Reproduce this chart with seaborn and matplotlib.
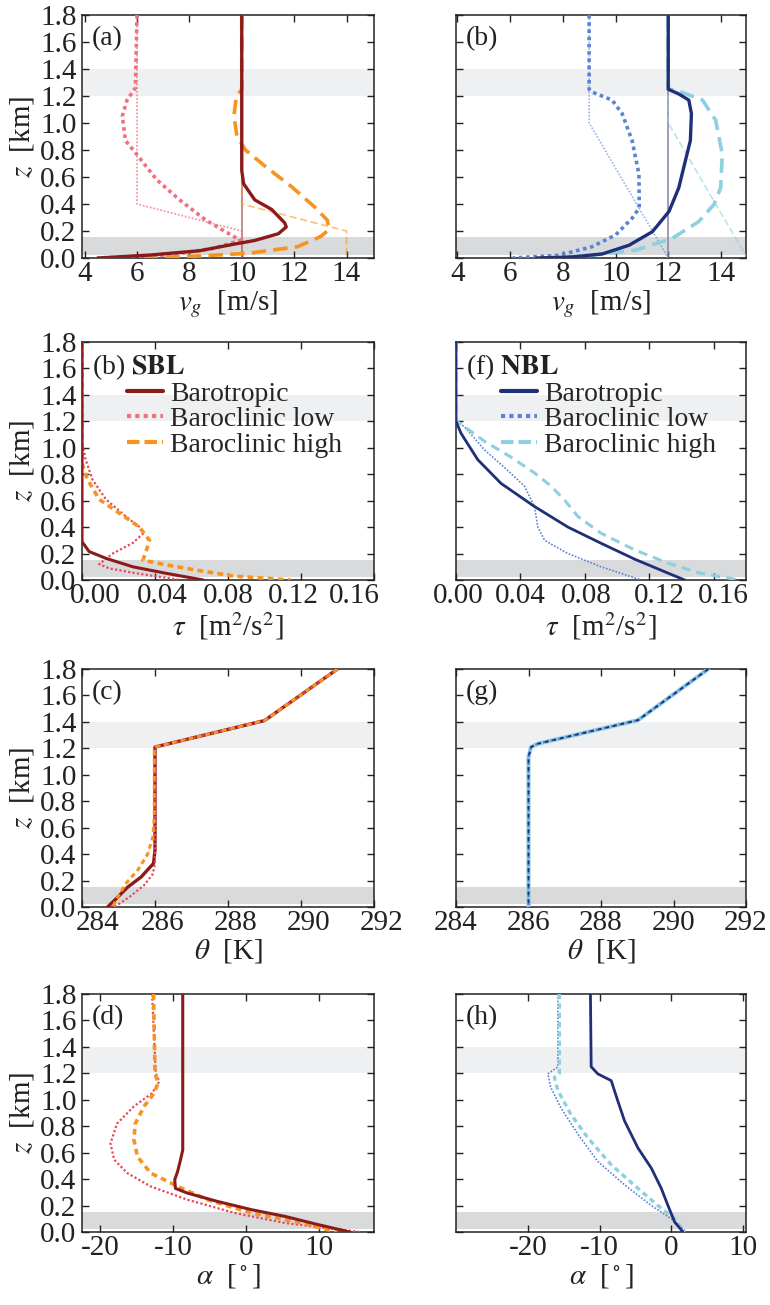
import matplotlib
matplotlib.use("Agg")
import matplotlib.pyplot as plt
from matplotlib.lines import Line2D
from matplotlib.ticker import FormatStrFormatter
from matplotlib.transforms import ScaledTranslation
import seaborn as sns
import numpy as np

# ---- colours ----
SBL_BARO, SBL_LOW, SBL_HIGH = '#8b1a1a', '#f0707c', '#f7941d'
NBL_BARO, NBL_LOW, NBL_HIGH = '#1f2f78', '#5b82d6', '#8dd0e0'

# ---- row 1: geostrophic wind speed v_g (m/s) ----
vg_z_sbl_baro = [1.8, 0.65, 0.55, 0.43, 0.36, 0.26, 0.23, 0.18, 0.13, 0.10, 0.054, 0.022, 0.0]
vg_sbl_baro = [10.0, 10.0, 10.07, 10.5, 11.14, 11.64, 11.7, 11.4, 10.5, 9.64, 8.4, 6.5, 4.5]
vg_z_sbl_low = [1.8, 1.26, 1.17, 1.05, 0.87, 0.78, 0.58, 0.43, 0.28, 0.18, 0.13, 0.07, 0.02, 0.0]
vg_sbl_low = [6.0, 5.94, 5.62, 5.44, 5.56, 5.94, 6.75, 7.63, 8.63, 9.51, 9.95, 8.88, 7.13, 4.5]
vg_z_sbl_high = [1.8, 1.25, 1.195, 1.05, 0.90, 0.80, 0.68, 0.53, 0.38, 0.28, 0.21, 0.16, 0.084, 0.035, 0.015, 0.0]
vg_sbl_high = [10.0, 10.0, 9.79, 9.7, 9.82, 10.14, 10.89, 11.89, 12.77, 13.27, 13.33, 13.02, 12.14, 10.26, 8.38, 6.1]

vg_z_nbl_baro = [1.8, 1.25, 1.215, 1.17, 1.07, 0.87, 0.72, 0.52, 0.345, 0.195, 0.095, 0.03, 0.008, 0.0]
vg_nbl_baro = [12.0, 12.0, 12.4, 12.78, 12.88, 12.84, 12.65, 12.4, 12.03, 11.4, 10.52, 9.5, 8.36, 7.0]
vg_z_nbl_low = [1.8, 1.25, 1.23, 1.17, 1.07, 0.87, 0.62, 0.37, 0.295, 0.17, 0.083, 0.02, 0.0]
vg_nbl_low = [9.0, 9.0, 9.1, 9.87, 10.25, 10.63, 10.89, 10.9, 10.63, 10.0, 9.1, 7.85, 6.1]
vg_z_nbl_high = [1.8, 1.25, 1.245, 1.17, 1.02, 0.77, 0.52, 0.395, 0.27, 0.145, 0.058, 0.015, 0.0]
vg_nbl_high = [12.0, 12.0, 12.28, 13.3, 13.8, 14.05, 13.99, 13.73, 13.16, 12.15, 10.76, 8.86, 7.34]

# imposed geostrophic profiles (thin lines)
geo_z_baro = [1.8, 0.0]
geo_sbl_baro = [10, 10]
geo_nbl_baro = [12, 12]
geo_z_sbl = [1.8, 0.4, 0.2, 0.0]
geo_sbl_low = [6, 6, 10, 10]
geo_sbl_high = [10, 10, 14, 14]
geo_z_nbl = [1.8, 1.0, 0.0]
geo_nbl_low = [9, 9, 12]
geo_nbl_high = [12, 12, 15]

# ---- row 2: momentum flux tau (m2/s2) ----
tau_z_sbl_baro = [1.8, 0.29, 0.215, 0.164, 0.10, 0.05, 0.0]
tau_sbl_baro = [0, 0, 0.0039, 0.0131, 0.0278, 0.0463, 0.0665]
tau_z_sbl_low = [1.8, 1.05, 0.91, 0.76, 0.61, 0.48, 0.40, 0.35, 0.28, 0.20, 0.12, 0.088, 0.05, 0.0]
tau_sbl_low = [0, 0, 0.002, 0.0057, 0.0131, 0.0241, 0.0315, 0.0334, 0.0278, 0.0168, 0.0094, 0.0149, 0.030, 0.054]
tau_z_sbl_high = [1.8, 0.88, 0.76, 0.61, 0.505, 0.40, 0.30, 0.2, 0.15, 0.114, 0.07, 0.03, 0.0]
tau_sbl_high = [0, 0, 0.003, 0.0094, 0.0205, 0.0315, 0.037, 0.0347, 0.0334, 0.0463, 0.0647, 0.083, 0.1145]

tau_z_nbl_baro = [1.8, 1.2, 1.11, 0.91, 0.73, 0.556, 0.40, 0.278, 0.157, 0.05, 0.0]
tau_nbl_baro = [0, 0, 0.0031, 0.0135, 0.028, 0.0487, 0.0695, 0.090, 0.111, 0.132, 0.142]
tau_z_nbl_low = [1.8, 1.2, 1.16, 0.985, 0.83, 0.71, 0.556, 0.40, 0.30, 0.20, 0.10, 0.0]
tau_nbl_low = [0, 0, 0.0052, 0.0176, 0.032, 0.0425, 0.0487, 0.0508, 0.055, 0.0695, 0.090, 0.115]
tau_z_nbl_high = [1.8, 1.2, 1.18, 1.05, 0.93, 0.81, 0.71, 0.61, 0.48, 0.354, 0.227, 0.126, 0.05, 0.0]
tau_nbl_high = [0, 0, 0.0031, 0.0176, 0.034, 0.0487, 0.059, 0.067, 0.0757, 0.090, 0.111, 0.132, 0.152, 0.176]

# ---- row 3: potential temperature theta (K) ----
th_z_sbl_baro = [1.8, 1.41, 1.21, 1.19, 0.43, 0.33, 0.227, 0.15, 0.05, 0.0]
th_sbl_baro = [291.0, 289.0, 286.0, 286.0, 286.0, 285.96, 285.62, 285.25, 284.89, 284.7]
th_z_sbl_low = [1.8, 1.41, 1.21, 1.19, 0.33, 0.25, 0.164, 0.076, 0.0]
th_sbl_low = [291.0, 289.0, 286.0, 286.0, 286.0, 285.94, 285.7, 285.3, 284.89]
th_z_sbl_high = [1.8, 1.41, 1.21, 1.19, 0.68, 0.53, 0.40, 0.28, 0.177, 0.076, 0.0]
th_sbl_high = [291.0, 289.0, 286.0, 285.98, 285.98, 285.94, 285.8, 285.53, 285.2, 284.98, 284.84]

th_z_nbl = [1.8, 1.413, 1.235, 1.21, 1.134, 0.0]
th_nbl = [290.96, 289.02, 286.26, 286.07, 286.0, 286.0]

# ---- row 4: wind direction alpha (deg) ----
al_z_sbl_baro = [1.8, 0.62, 0.547, 0.458, 0.395, 0.33, 0.295, 0.232, 0.169, 0.118, 0.055, 0.0]
al_sbl_baro = [-8.7, -8.7, -9.0, -9.4, -9.8, -9.7, -8.1, -4.0, 0.7, 5.3, 9.9, 14.2]
al_z_sbl_low = [1.8, 1.2, 1.14, 1.05, 0.95, 0.82, 0.67, 0.547, 0.446, 0.345, 0.244, 0.144, 0.068, 0.0]
al_sbl_low = [-12.9, -12.4, -11.9, -12.9, -15.4, -17.7, -18.6, -18.1, -16.3, -13.1, -8.05, -1.6, 5.3, 15.6]
al_z_sbl_high = [1.8, 1.2, 1.126, 1.05, 0.95, 0.82, 0.70, 0.57, 0.446, 0.345, 0.244, 0.144, 0.068, 0.0]
al_sbl_high = [-12.7, -12.5, -12.1, -12.6, -14.0, -15.2, -15.4, -14.9, -13.1, -9.4, -5.3, 0.7, 7.6, 12.4]

al_z_nbl_baro = [1.8, 1.25, 1.196, 1.145, 0.99, 0.84, 0.636, 0.483, 0.33, 0.2, 0.076, 0.0]
al_nbl_baro = [-11.27, -11.17, -10.25, -8.38, -7.45, -6.52, -4.66, -2.79, -1.4, -0.47, 0.46, 1.62]
al_z_nbl_low = [1.8, 1.25, 1.196, 1.094, 0.94, 0.738, 0.534, 0.356, 0.2, 0.1, 0.0]
al_nbl_low = [-15.8, -15.8, -17.2, -16.8, -15.4, -13.0, -10.25, -6.5, -2.8, 0.0, 2.1]
al_z_nbl_high = [1.8, 1.2, 1.17, 1.07, 0.89, 0.71, 0.51, 0.33, 0.2, 0.1, 0.0]
al_nbl_high = [-15.6, -15.6, -16.3, -15.8, -14.0, -11.6, -8.4, -4.66, -1.87, 0.46, 1.86]

legend_labels = ['Barotropic', 'Baroclinic low', 'Baroclinic high']

# ---- style ----
sns.set_theme(style='ticks')
plt.rcParams['font.family'] = ['Liberation Serif', 'DejaVu Serif']
plt.rcParams['mathtext.fontset'] = 'stix'
plt.rcParams['axes.unicode_minus'] = False
plt.rcParams['axes.edgecolor'] = '#222222'
plt.rcParams['axes.linewidth'] = 1.1

FS = 21
INK = '#222222'
W, H = 770, 1305
fig = plt.figure(figsize=(W / 100, H / 100), dpi=100)

rows_px = [(15, 258), (342, 580), (669, 907), (994, 1232)]
cols_px = [(82, 374), (456, 746)]


def make_ax(r, c):
    (t, b), (l, rr) = rows_px[r], cols_px[c]
    return fig.add_axes([l / W, 1 - b / H, (rr - l) / W, (b - t) / H])


def line(ax, x, z, color, ls='-', lw=2.4, alpha=1.0, zorder=3):
    sns.lineplot(x=x, y=z, ax=ax, color=color, linestyle=ls, linewidth=lw,
                 alpha=alpha, sort=False, estimator=None, legend=False, zorder=zorder)


def decorate(ax, c, xlim, xticks, xfmt, xlabel, tag, shifts=None):
    ax.axhspan(1.2, 1.4, color='#eff0f2', lw=0, zorder=0)
    ax.axhspan(0.025, 0.155, color='#d9dadc', lw=0, zorder=0)
    ax.set_xlim(*xlim)
    ax.set_ylim(0, 1.8)
    ax.set_xticks(xticks)
    ax.set_yticks(np.arange(0, 1.81, 0.2))
    ax.xaxis.set_major_formatter(FormatStrFormatter(xfmt))
    ax.yaxis.set_major_formatter(FormatStrFormatter('%.1f'))
    ax.tick_params(direction='in', top=True, right=True, length=5, width=1,
                   labelsize=FS, colors=INK)
    ax.tick_params(axis='x', pad=2)
    ax.tick_params(axis='y', pad=4)
    ax.set_xlabel(xlabel, fontsize=FS, labelpad=1, color=INK)
    if c == 0:
        ax.set_ylabel(r'$z$  [km]', fontsize=FS, labelpad=3, color=INK)
    else:
        ax.set_ylabel('')
        ax.tick_params(labelleft=False)
    ax.text(0.035, 0.955, tag, transform=ax.transAxes, ha='left', va='top',
            fontsize=FS - 1, color=INK)
    if shifts is not None:
        for lab, dx in zip(ax.get_xticklabels(), shifts):
            lab.set_transform(lab.get_transform()
                              + ScaledTranslation(dx / 100, 0, fig.dpi_scale_trans))


def add_legend(ax, colors):
    styles = ['-', (0, (1, 1)), (0, (3, 1.2))]
    handles = [Line2D([], [], color=col, lw=3, ls=st) for col, st in zip(colors, styles)]
    ax.legend(handles, legend_labels, loc='upper left', bbox_to_anchor=(0.155, 0.835),
              frameon=False, fontsize=FS - 1, handlelength=1.3, handletextpad=0.25,
              labelspacing=0.0, borderpad=0, borderaxespad=0)


DOT = (0, (1, 1))
DASH = (0, (4, 2))
SDASH = (0, (1.6, 1.2))

# row 1
ax = make_ax(0, 0)
line(ax, geo_sbl_baro, geo_z_baro, '#a85a5a', lw=1.2, alpha=0.8)
line(ax, geo_sbl_low, geo_z_sbl, SBL_LOW, ls=DOT, lw=1.3, alpha=0.7)
line(ax, geo_sbl_high, geo_z_sbl, SBL_HIGH, ls=DASH, lw=1.3, alpha=0.55)
line(ax, vg_sbl_low, vg_z_sbl_low, SBL_LOW, ls=DOT, lw=2.6)
line(ax, vg_sbl_high, vg_z_sbl_high, SBL_HIGH, ls=DASH, lw=2.6)
line(ax, vg_sbl_baro, vg_z_sbl_baro, SBL_BARO, lw=2.4)
decorate(ax, 0, (3.9, 15.05), [4, 6, 8, 10, 12, 14], '%d', r'$v_g$  [m/s]', '(a)')

ax = make_ax(0, 1)
line(ax, geo_nbl_baro, geo_z_baro, '#7f7fb0', lw=1.2, alpha=0.9)
line(ax, geo_nbl_low, geo_z_nbl, NBL_LOW, ls=DOT, lw=1.2, alpha=0.6)
line(ax, geo_nbl_high, geo_z_nbl, NBL_HIGH, ls=DASH, lw=1.2, alpha=0.6)
line(ax, vg_nbl_low, vg_z_nbl_low, NBL_LOW, ls=DOT, lw=2.6)
line(ax, vg_nbl_high, vg_z_nbl_high, NBL_HIGH, ls=DASH, lw=2.6)
line(ax, vg_nbl_baro, vg_z_nbl_baro, NBL_BARO, lw=2.4)
decorate(ax, 1, (3.95, 14.95), [4, 6, 8, 10, 12, 14], '%d', r'$v_g$  [m/s]', '(b)')

# row 2
ax = make_ax(1, 0)
line(ax, tau_sbl_low, tau_z_sbl_low, '#ee4656', ls=DOT, lw=1.6)
line(ax, tau_sbl_high, tau_z_sbl_high, SBL_HIGH, ls=SDASH, lw=2.6)
line(ax, tau_sbl_baro, tau_z_sbl_baro, SBL_BARO, lw=2.2)
decorate(ax, 0, (0, 0.16), [0, 0.04, 0.08, 0.12, 0.16], '%.2f',
         r'$\tau$  [m$^2$/s$^2$]', r'(b) $\mathbf{SBL}$', shifts=[13, 7, 0, -8, -20])
add_legend(ax, [SBL_BARO, SBL_LOW, SBL_HIGH])

ax = make_ax(1, 1)
line(ax, tau_nbl_low, tau_z_nbl_low, NBL_LOW, ls=DOT, lw=1.2)
line(ax, tau_nbl_high, tau_z_nbl_high, NBL_HIGH, ls=(0, (3, 2)), lw=2.2)
line(ax, tau_nbl_baro, tau_z_nbl_baro, NBL_BARO, lw=2.0)
decorate(ax, 1, (0, 0.18), [0, 0.04, 0.08, 0.12, 0.16], '%.2f',
         r'$\tau$  [m$^2$/s$^2$]', r'(f) $\mathbf{NBL}$', shifts=[2, 0, 1, 10, 10])
add_legend(ax, [NBL_BARO, NBL_LOW, NBL_HIGH])

# row 3
ax = make_ax(2, 0)
line(ax, th_sbl_baro, th_z_sbl_baro, SBL_BARO, lw=2.4)
line(ax, th_sbl_low, th_z_sbl_low, '#ee4656', ls=DOT, lw=1.6)
line(ax, th_sbl_high, th_z_sbl_high, SBL_HIGH, ls=SDASH, lw=2.2)
decorate(ax, 0, (284, 292), [284, 286, 288, 290, 292], '%d', r'$\theta$  [K]', '(c)',
         shifts=[16, 8, 8, 8, 8])

ax = make_ax(2, 1)
line(ax, th_nbl, th_z_nbl, NBL_HIGH, lw=3.0)
line(ax, th_nbl, th_z_nbl, NBL_LOW, ls=DOT, lw=1.4)
line(ax, th_nbl, th_z_nbl, NBL_BARO, ls=(0, (2, 2)), lw=1.4)
decorate(ax, 1, (284, 292), [284, 286, 288, 290, 292], '%d', r'$\theta$  [K]', '(g)')

# row 4
ax = make_ax(3, 0)
line(ax, al_sbl_low, al_z_sbl_low, '#ee4656', ls=DOT, lw=1.6)
line(ax, al_sbl_high, al_z_sbl_high, SBL_HIGH, ls=SDASH, lw=2.6)
line(ax, al_sbl_baro, al_z_sbl_baro, SBL_BARO, lw=2.2)
decorate(ax, 0, (-22.5, 17.5), [-20, -10, 0, 10], '%d', r'$\alpha$  [$^\circ$]', '(d)')

ax = make_ax(3, 1)
line(ax, al_nbl_low, al_z_nbl_low, NBL_LOW, ls=DOT, lw=1.2)
line(ax, al_nbl_high, al_z_nbl_high, NBL_HIGH, ls=SDASH, lw=2.4)
line(ax, al_nbl_baro, al_z_nbl_baro, NBL_BARO, lw=2.0)
decorate(ax, 1, (-30, 10.4), [-20, -10, 0, 10], '%d', r'$\alpha$  [$^\circ$]', '(h)')

fig.savefig('out.png', dpi=100, facecolor='white')
